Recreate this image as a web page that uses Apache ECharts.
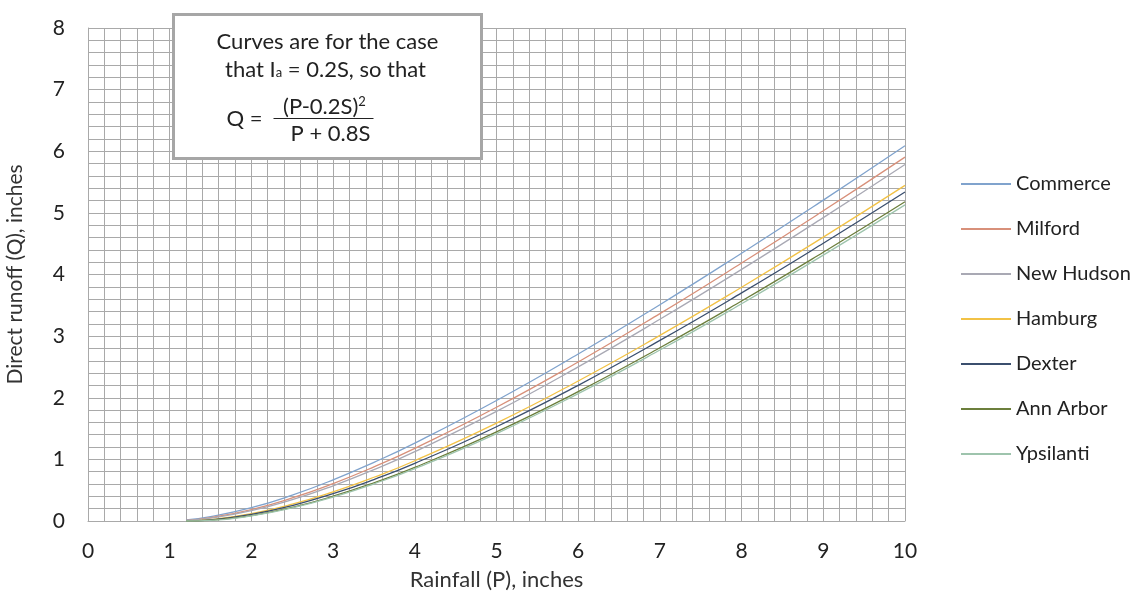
<!DOCTYPE html>
<html lang="en">
<head>
    <meta charset="UTF-8">
    <title>Direct runoff</title>
    <script src="https://cdn.jsdelivr.net/npm/echarts@6/dist/echarts.min.js"></script>
    <style>
        html, body { margin: 0; padding: 0; background: #fff; }
        #chart { width: 1145px; height: 606px; }
    </style>
</head>
<body>
<div id="chart"></div>
<script>
    // rainfall P (inches)
    var rainfall = [1.2, 1.5, 2, 2.5, 3, 3.5, 4, 5, 6, 7, 8, 9, 10];
    // direct runoff Q (inches)
    var commerce  = [0.019, 0.071, 0.216, 0.420, 0.668, 0.952, 1.264, 1.955, 2.709, 3.510, 4.346, 5.207, 6.089];
    var milford   = [0.011, 0.055, 0.185, 0.374, 0.608, 0.879, 1.179, 1.846, 2.581, 3.365, 4.186, 5.034, 5.905];
    var newHudson = [0.008, 0.045, 0.167, 0.346, 0.571, 0.833, 1.125, 1.778, 2.500, 3.273, 4.083, 4.923, 5.786];
    var hamburg   = [0.001, 0.024, 0.120, 0.273, 0.473, 0.710, 0.978, 1.588, 2.272, 3.012, 3.793, 4.606, 5.446];
    var dexter    = [0.000, 0.019, 0.106, 0.251, 0.443, 0.673, 0.934, 1.530, 2.202, 2.930, 3.701, 4.506, 5.338];
    var annArbor  = [0.000, 0.012, 0.088, 0.222, 0.402, 0.620, 0.870, 1.446, 2.100, 2.812, 3.569, 4.361, 5.181];
    var ypsilanti = [0.000, 0.010, 0.083, 0.213, 0.389, 0.604, 0.850, 1.419, 2.067, 2.774, 3.526, 4.314, 5.130];

    var names  = ['Commerce', 'Milford', 'New Hudson', 'Hamburg', 'Dexter', 'Ann Arbor', 'Ypsilanti'];
    var values = [commerce, milford, newHudson, hamburg, dexter, annArbor, ypsilanti];
    var colors = ['#80a3cd', '#d8907a', '#a9a9b4', '#f2c246', '#3b4f6e', '#6c7f3c', '#9ec4ad'];

    var font = 'Lato, "Open Sans", sans-serif';

    var series = [];
    for (var i = 0; i < names.length; i++) {
        var pts = [];
        for (var j = 0; j < rainfall.length; j++) {
            pts.push([rainfall[j], values[i][j]]);
        }
        series.push({
            name: names[i],
            type: 'line',
            data: pts,
            smooth: true,
            showSymbol: false,
            lineStyle: { width: 1.3, color: colors[i] },
            itemStyle: { color: colors[i] }
        });
    }

    var gridColor = '#a9a9a9';
    var myChart = echarts.init(document.getElementById('chart'));
    myChart.setOption({
        animation: false,
        grid: { left: 88, right: 240, top: 28, bottom: 85, outerBoundsMode: 'none' },
        legend: {
            orient: 'vertical',
            left: 956,
            top: 167,
            itemWidth: 50,
            itemHeight: 2,
            itemGap: 21,
            icon: 'rect',
            textStyle: { fontFamily: font, fontSize: 20, lineHeight: 24, color: '#222' },
            data: names
        },
        xAxis: {
            type: 'value',
            min: 0, max: 10, interval: 1,
            name: 'Rainfall (P), inches',
            nameLocation: 'middle',
            nameGap: 48,
            nameTextStyle: { fontFamily: font, fontSize: 22, color: '#333' },
            axisLine: { lineStyle: { color: gridColor } },
            axisTick: { show: false },
            axisLabel: { fontFamily: font, fontSize: 21, color: '#222', margin: 20 },
            splitLine: { show: true, lineStyle: { color: gridColor, width: 1 } },
            minorTick: { show: false, splitNumber: 5 },
            minorSplitLine: { show: true, lineStyle: { color: gridColor, width: 1 } }
        },
        yAxis: {
            type: 'value',
            min: 0, max: 8, interval: 1,
            name: 'Direct runoff (Q), inches',
            nameLocation: 'middle',
            nameGap: 62,
            nameTextStyle: { fontFamily: font, fontSize: 21, color: '#333' },
            axisLine: { show: true, lineStyle: { color: gridColor } },
            axisTick: { show: false },
            axisLabel: { fontFamily: font, fontSize: 21, color: '#222', margin: 23 },
            splitLine: { show: true, lineStyle: { color: gridColor, width: 1 } },
            minorTick: { show: false, splitNumber: 5 },
            minorSplitLine: { show: true, lineStyle: { color: gridColor, width: 1 } }
        },
        graphic: [{
            type: 'group',
            left: 172,
            top: 13,
            z: 100,
            children: [
                {
                    type: 'rect',
                    z: 100,
                    shape: { x: 0, y: 0, width: 308, height: 144 },
                    style: { fill: '#fff', stroke: '#a6a6a6', lineWidth: 3 }
                },
                {
                    type: 'text',
                    z: 101,
                    style: {
                        x: 154, y: 27, align: 'center', verticalAlign: 'middle',
                        text: 'Curves are for the case',
                        font: '22px ' + font, fill: '#222'
                    }
                },
                {
                    type: 'text',
                    z: 101,
                    style: {
                        x: 152, y: 55, align: 'center', verticalAlign: 'middle',
                        text: '{n|that I}{s|a}{n| = 0.2S, so that}',
                        rich: {
                            n: { fontFamily: font, fontSize: 22, fill: '#222' },
                            s: { fontFamily: font, fontSize: 13, fill: '#222', padding: [7, 0, 0, 0] }
                        }
                    }
                },
                {
                    type: 'text',
                    z: 101,
                    style: {
                        x: 71, y: 104, align: 'center', verticalAlign: 'middle',
                        text: 'Q =',
                        font: '22px ' + font, fill: '#222'
                    }
                },
                {
                    type: 'text',
                    z: 101,
                    style: {
                        x: 151, y: 92, align: 'center', verticalAlign: 'middle',
                        text: '{n|(P-0.2S)}{s|2}',
                        rich: {
                            n: { fontFamily: font, fontSize: 22, fill: '#222' },
                            s: { fontFamily: font, fontSize: 13, fill: '#222', padding: [0, 0, 10, 0] }
                        }
                    }
                },
                {
                    type: 'line',
                    z: 101,
                    shape: { x1: 100, y1: 104, x2: 200, y2: 104 },
                    style: { stroke: '#222', lineWidth: 1 }
                },
                {
                    type: 'text',
                    z: 101,
                    style: {
                        x: 157, y: 119, align: 'center', verticalAlign: 'middle',
                        text: 'P + 0.8S',
                        font: '22px ' + font, fill: '#222'
                    }
                }
            ]
        }],
        series: series
    });
</script>
</body>
</html>
